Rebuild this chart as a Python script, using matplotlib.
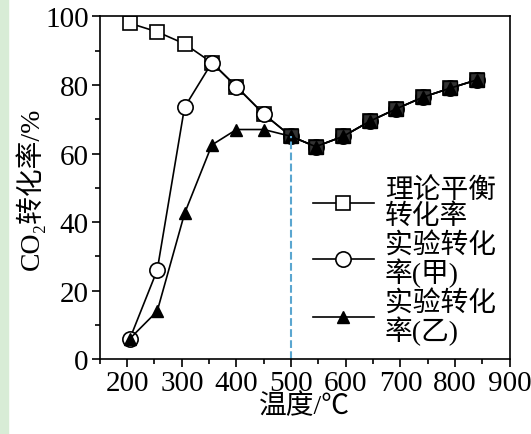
import matplotlib
matplotlib.use("Agg")
import matplotlib.pyplot as plt
from matplotlib.ticker import MultipleLocator
from matplotlib.patches import Rectangle

temps = [205, 255, 305, 355, 400, 450, 500, 545, 595, 645, 692, 742, 790, 840]
theory = [98, 95.5, 92, 86.5, 79.5, 71.5, 65, 62, 65, 69.5, 73, 76.5, 79, 81.5]
jia = [6, 26, 73.5, 86.5, 79.5, 71.5, 65, 62, 65, 69.5, 73, 76.5, 79, 81.5]
yi = [6, 14, 42.5, 62.5, 67, 67, 65, 62, 65, 69.5, 73, 76.5, 79, 81.5]
labels = ["理论平衡\n转化率", "实验转化\n率(甲)", "实验转化\n率(乙)"]

fam = ['Liberation Serif', 'Noto Sans CJK SC']
plt.rcParams['font.family'] = fam

fig = plt.figure(figsize=(5.31, 4.35), dpi=100)
fig.patches.append(Rectangle((0, 0), 0.016, 1, transform=fig.transFigure, color='#d8ecd6', zorder=0))
ax = fig.add_axes([0.188, 0.172, 0.772, 0.788])

l1, = ax.plot(temps, theory, '-s', color='black', mfc='white', ms=10, lw=1.2, mew=1.2)
l2, = ax.plot(temps, jia, '-o', color='black', mfc='white', ms=11, lw=1.2, mew=1.2)
ax.plot(temps[6:], theory[6:], 's', color='black', mfc='#333333', ms=10, lw=0)
l3, = ax.plot(temps, yi, '-^', color='black', mfc='black', ms=8, lw=1.2)
ax.axvline(500, ymax=65/100, color='#5aa6d0', ls='--', lw=1.5)

ax.set_xlim(150, 900)
ax.set_ylim(0, 100)
ax.xaxis.set_major_locator(MultipleLocator(100))
ax.xaxis.set_minor_locator(MultipleLocator(50))
ax.yaxis.set_major_locator(MultipleLocator(20))
ax.yaxis.set_minor_locator(MultipleLocator(10))
ax.tick_params(which='major', length=6, width=1.2, labelsize=21, direction='out', pad=2)
ax.tick_params(which='minor', length=3.5, width=1.2, direction='out')
for s in ax.spines.values():
    s.set_linewidth(1.2)
ax.set_xlabel("温度/℃", fontsize=20, labelpad=-2)
ax.set_ylabel("CO₂转化率/%", fontsize=20, labelpad=0)
leg = ax.legend([l1, l2, l3], labels, loc='lower right', bbox_to_anchor=(1.0, 0.0),
                frameon=False, fontsize=20, handlelength=2.2, labelspacing=0.1,
                handletextpad=0.4, borderaxespad=0.1)
for t in leg.get_texts():
    t.set_linespacing(1.0)
fig.savefig("out.png", dpi=100)
